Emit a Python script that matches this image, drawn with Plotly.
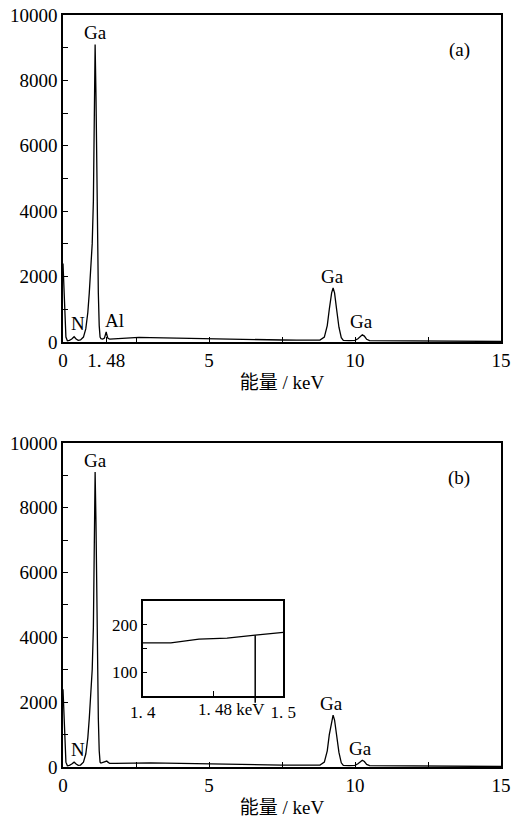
import plotly.graph_objects as go

# ---------------- data ----------------
energy_a = [0.0, 0.03, 0.06, 0.1, 0.15, 0.22, 0.3, 0.38, 0.45, 0.52, 0.6, 0.7, 0.78, 0.85, 0.9,
            0.95, 1.0, 1.04, 1.07, 1.1, 1.13, 1.16, 1.19, 1.21, 1.24, 1.27, 1.3, 1.36, 1.42, 1.46,
            1.48, 1.5, 1.54, 1.6, 1.8, 2.0, 2.3, 2.6, 3.0, 3.5, 4.0, 4.5, 5.0, 5.5, 6.0, 6.5, 7.0,
            7.5, 8.0, 8.5, 8.8, 8.95, 9.05, 9.12, 9.2, 9.25, 9.3, 9.37, 9.45, 9.53, 9.6, 9.8, 10.0,
            10.1, 10.2, 10.25, 10.32, 10.4, 10.5, 11.0, 12.0, 13.0, 14.0, 15.0]
counts_a = [2400, 1500, 700, 150, 40, 50, 90, 160, 90, 50, 60, 150, 400, 900, 1500,
            2200, 3000, 4300, 7000, 9100, 7500, 5000, 3000, 1500, 500, 150, 100, 90, 120, 230,
            310, 220, 110, 90, 100, 110, 120, 140, 130, 120, 110, 100, 95, 80, 75, 70, 65,
            60, 55, 50, 60, 150, 500, 1000, 1500, 1650, 1500, 1000, 450, 130, 50, 40, 50,
            100, 200, 220, 180, 80, 40, 35, 30, 25, 20, 15]

energy_b = [0.0, 0.03, 0.06, 0.1, 0.15, 0.22, 0.3, 0.38, 0.45, 0.52, 0.6, 0.7, 0.78, 0.85, 0.9,
            0.95, 1.0, 1.04, 1.07, 1.1, 1.13, 1.16, 1.19, 1.21, 1.24, 1.27, 1.3, 1.36, 1.42, 1.46,
            1.48, 1.5, 1.54, 1.6, 1.8, 2.0, 2.3, 2.6, 3.0, 3.5, 4.0, 4.5, 5.0, 5.5, 6.0, 6.5, 7.0,
            7.5, 8.0, 8.5, 8.8, 8.95, 9.05, 9.12, 9.2, 9.25, 9.3, 9.37, 9.45, 9.53, 9.6, 9.8, 10.0,
            10.1, 10.2, 10.25, 10.32, 10.4, 10.5, 11.0, 12.0, 13.0, 14.0, 15.0]
counts_b = [2400, 1500, 700, 150, 40, 50, 90, 150, 90, 50, 60, 150, 400, 900, 1500,
            2200, 3000, 4300, 7000, 9100, 7500, 5000, 3000, 1500, 500, 150, 120, 140, 165, 172,
            178, 184, 150, 110, 110, 115, 120, 135, 130, 120, 110, 100, 95, 80, 75, 70, 65,
            60, 55, 50, 60, 150, 500, 1000, 1450, 1600, 1450, 1000, 450, 130, 50, 40, 50,
            100, 190, 210, 170, 80, 40, 35, 30, 25, 20, 15]

inset_energy = [1.40, 1.42, 1.44, 1.46, 1.48, 1.50]
inset_counts = [162, 162, 170, 172, 178, 184]
inset_marker_energy = 1.48
inset_marker_count = 178

x_ticks_a = [0, 1.48, 5, 10, 15]
x_ticktext_a = ["0", "1. 48", "5", "10", "15"]
x_ticks_b = [0, 5, 10, 15]
x_ticktext_b = ["0", "5", "10", "15"]
x_minor = [2.5, 7.5, 12.5]
y_ticks = [0, 2000, 4000, 6000, 8000, 10000]
y_ticktext = ["0", "2000", "4000", "6000", "8000", "10000"]
inset_xticks = [1.4, 1.45, 1.5]
inset_xticktext = ["1. 4", "", "1. 5"]
inset_yticks = [100, 200]
inset_yminor = [150]

peak_labels_a = [("Ga", 1.1, 9450), ("N", 0.5, 580), ("Al", 1.75, 670),
                 ("Ga", 9.22, 2000), ("Ga", 10.23, 620), ("(a)", 13.57, 8930)]
peak_labels_b = [("Ga", 1.1, 9450), ("N", 0.5, 530), ("Ga", 9.2, 1960),
                 ("Ga", 10.2, 560), ("(b)", 13.57, 8930)]

x_title = "能量 / keV"

# ---------------- figure ----------------
FONT = "Liberation Serif, Noto Sans CJK SC, serif"
fig = go.Figure()

line = dict(color="black", width=1.3)
fig.add_trace(go.Scatter(x=energy_a, y=counts_a, mode="lines", line=line,
                         xaxis="x", yaxis="y", showlegend=False))
fig.add_trace(go.Scatter(x=energy_b, y=counts_b, mode="lines", line=line,
                         xaxis="x2", yaxis="y2", showlegend=False))
fig.add_trace(go.Scatter(x=inset_energy, y=inset_counts, mode="lines", line=line,
                         xaxis="x3", yaxis="y3", showlegend=False))

axis_common = dict(showline=True, linecolor="black", linewidth=1.5, mirror=True,
                   ticks="inside", ticklen=5, tickwidth=1.2, tickcolor="black",
                   showgrid=False, zeroline=False, automargin=False,
                   tickfont=dict(family=FONT, size=19, color="black"))
minor_style = dict(ticks="inside", ticklen=5, tickcolor="black", tickwidth=1.2)

fig.update_layout(
    width=511, height=820,
    margin=dict(l=63, r=10, t=15, b=53),
    paper_bgcolor="white", plot_bgcolor="white",
    font=dict(family=FONT, size=19, color="black"),
    xaxis=dict(axis_common, domain=[0, 1], anchor="y", range=[0, 15],
               tickmode="array", tickvals=x_ticks_a, ticktext=x_ticktext_a,
               minor=dict(minor_style, tickmode="array", tickvals=x_minor),
               title=dict(text=x_title, standoff=6, font=dict(family=FONT, size=19))),
    yaxis=dict(axis_common, domain=[0.5652, 1.0], anchor="x", range=[0, 10000],
               tickmode="array", tickvals=y_ticks, ticktext=y_ticktext,
               minor=dict(minor_style, dtick=1000)),
    xaxis2=dict(axis_common, domain=[0, 1], anchor="y2", range=[0, 15],
                tickmode="array", tickvals=x_ticks_b, ticktext=x_ticktext_b,
                minor=dict(minor_style, tickmode="array", tickvals=x_minor),
                title=dict(text=x_title, standoff=6, font=dict(family=FONT, size=19))),
    yaxis2=dict(axis_common, domain=[0.0, 0.4309], anchor="x2", range=[0, 10000],
                tickmode="array", tickvals=y_ticks, ticktext=y_ticktext,
                minor=dict(minor_style, dtick=1000)),
    xaxis3=dict(axis_common, domain=[0.182, 0.503], anchor="y3", range=[1.4, 1.5],
                tickmode="array", tickvals=inset_xticks, ticktext=inset_xticktext,
                tickfont=dict(family=FONT, size=17, color="black")),
    yaxis3=dict(axis_common, domain=[0.0944, 0.2207], anchor="x3", range=[50, 250],
                tickmode="array", tickvals=inset_yticks,
                minor=dict(minor_style, tickmode="array", tickvals=inset_yminor),
                tickfont=dict(family=FONT, size=17, color="black")),
)

# marker line at 1.48 keV in the inset (extends slightly below the inset frame)
y3_range = [50, 250]
fig.add_shape(type="line", xref="x3", yref="y3 domain",
              x0=inset_marker_energy, x1=inset_marker_energy,
              y0=-0.07, y1=(inset_marker_count - y3_range[0]) / (y3_range[1] - y3_range[0]),
              line=dict(color="black", width=1.5))
fig.add_annotation(text="1. 48 keV", x=1.4635, y=0, xref="x3", yref="y3 domain",
                   yanchor="top", yshift=-2, showarrow=False,
                   font=dict(family=FONT, size=17, color="black"))

for txt, x, y in peak_labels_a:
    fig.add_annotation(text=txt, x=x, y=y, xref="x", yref="y", showarrow=False,
                       font=dict(family=FONT, size=19, color="black"))
for txt, x, y in peak_labels_b:
    fig.add_annotation(text=txt, x=x, y=y, xref="x2", yref="y2", showarrow=False,
                       font=dict(family=FONT, size=19, color="black"))

fig.write_html("out.html")
